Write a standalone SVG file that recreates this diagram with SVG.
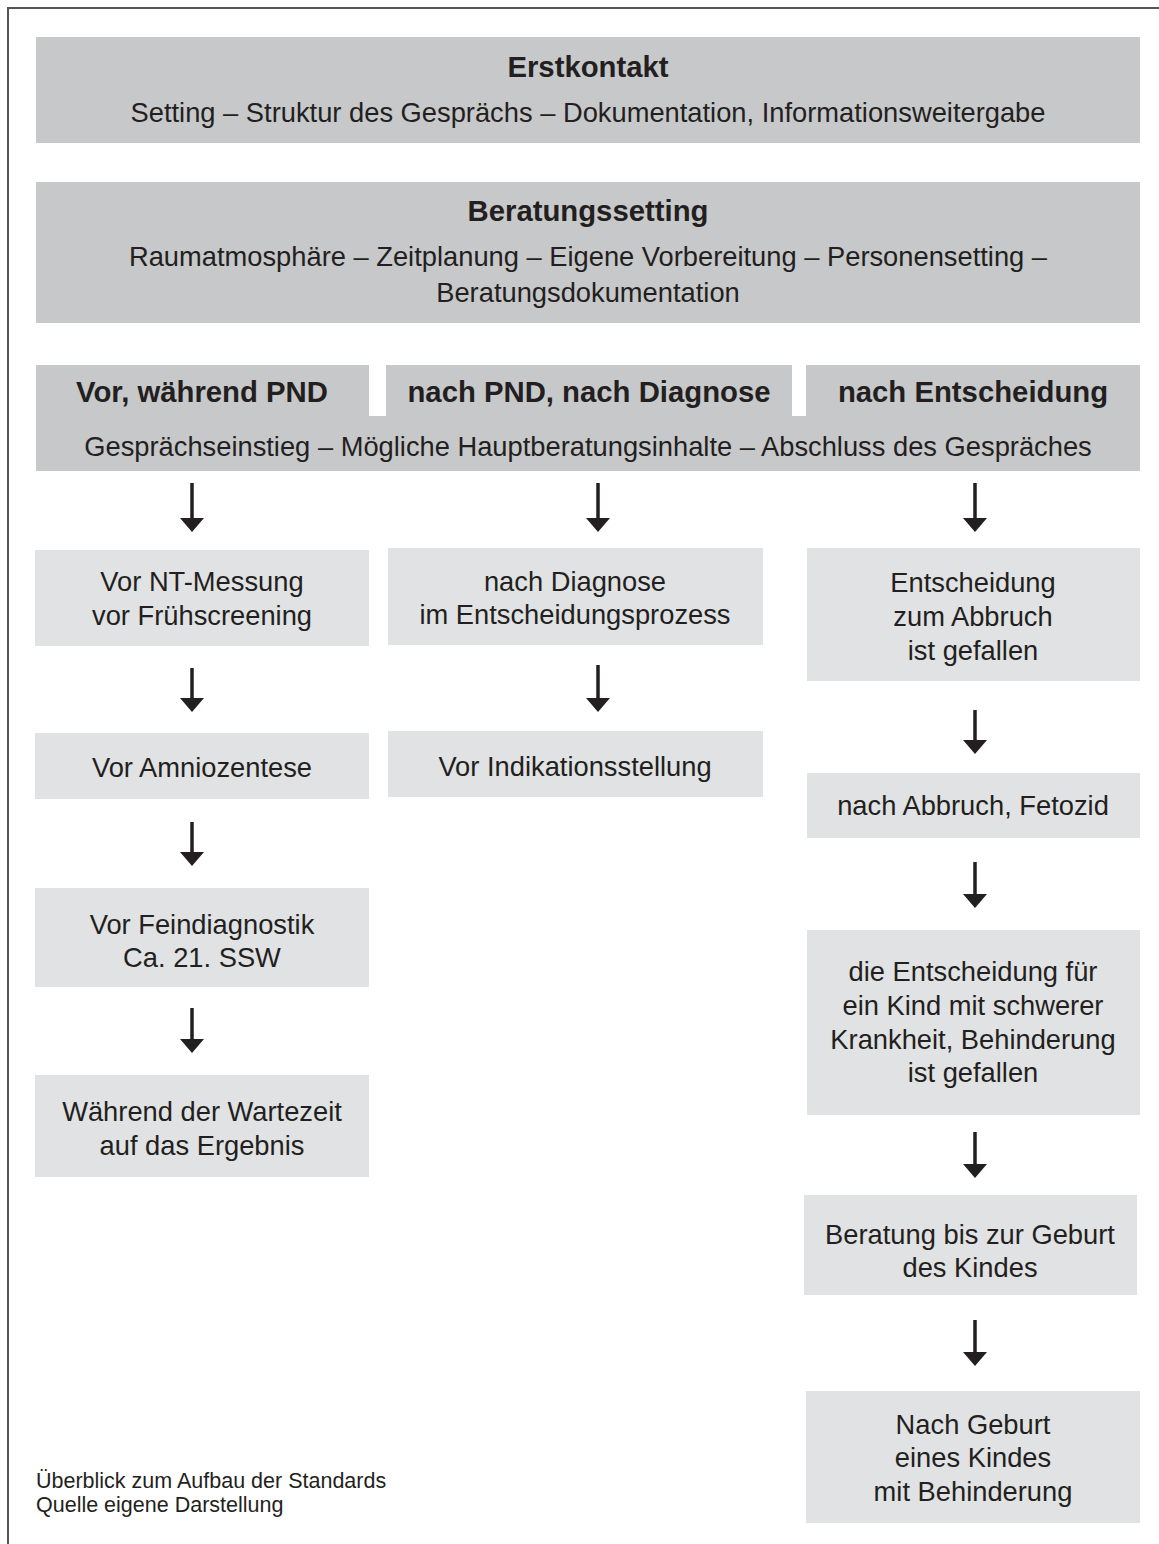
<svg xmlns="http://www.w3.org/2000/svg" width="1159" height="1544" viewBox="0 0 1159 1544">
<defs>
<style>
text{font-family:"Liberation Sans",Arial,sans-serif;fill:#231f20;text-anchor:middle}
.t{font-size:27.3px}
.b{font-size:29.3px;font-weight:bold}
.hb{font-size:29.3px;font-weight:bold}
.f{font-size:21.5px;text-anchor:start}
.dk{fill:#c7c8ca}
.lt{fill:#e1e2e3}
.ar{stroke:#231f20;stroke-width:3.5;fill:none;marker-end:url(#ah)}
</style>
<marker id="ah" viewBox="0 -12 14 24" markerWidth="14" markerHeight="24" refX="0" refY="0" orient="auto" markerUnits="userSpaceOnUse">
<path d="M0,-12 L14,0 L0,12 z" fill="#231f20"/>
</marker>
</defs>
<rect width="1159" height="1544" fill="#fff"/>
<path d="M8,1544 V8 H1159" fill="none" stroke="#555" stroke-width="2"/>

<g id="erstkontakt">
<rect class="dk" x="36" y="37" width="1104" height="106"/>
<text class="b" x="588" y="77">Erstkontakt</text>
<text class="t" x="588" y="122">Setting – Struktur des Gesprächs – Dokumentation, Informationsweitergabe</text>
</g>
<g id="beratungssetting">
<rect class="dk" x="36" y="182" width="1104" height="141"/>
<text class="b" x="588" y="221">Beratungssetting</text>
<text class="t" x="588" y="266">Raumatmosphäre – Zeitplanung – Eigene Vorbereitung – Personensetting –</text>
<text class="t" x="588" y="302">Beratungsdokumentation</text>
</g>
<g id="phasen">
<rect class="dk" x="36" y="365" width="333" height="52"/>
<rect class="dk" x="386" y="365" width="406" height="52"/>
<rect class="dk" x="806" y="365" width="334" height="52"/>
<rect class="dk" x="36" y="416" width="1104" height="55"/>
<text class="hb" x="202" y="402">Vor, während PND</text>
<text class="hb" x="589" y="402">nach PND, nach Diagnose</text>
<text class="hb" x="973" y="402">nach Entscheidung</text>
<text class="t" x="588" y="456">Gesprächseinstieg – Mögliche Hauptberatungsinhalte – Abschluss des Gespräches</text>
</g>

<g id="c1n1"><rect class="lt" x="35" y="550" width="334" height="96"/>
<text class="t" x="202" y="591">Vor NT-Messung</text><text class="t" x="202" y="625">vor Frühscreening</text></g>
<g id="c1n2"><rect class="lt" x="35" y="733" width="334" height="66"/>
<text class="t" x="202" y="777">Vor Amniozentese</text></g>
<g id="c1n3"><rect class="lt" x="35" y="888" width="334" height="99"/>
<text class="t" x="202" y="934">Vor Feindiagnostik</text><text class="t" x="202" y="967">Ca. 21. SSW</text></g>
<g id="c1n4"><rect class="lt" x="35" y="1075" width="334" height="102"/>
<text class="t" x="202" y="1121">Während der Wartezeit</text><text class="t" x="202" y="1155">auf das Ergebnis</text></g>

<g id="c2n1"><rect class="lt" x="388" y="548" width="375" height="97"/>
<text class="t" x="575" y="591">nach Diagnose</text><text class="t" x="575" y="624">im Entscheidungsprozess</text></g>
<g id="c2n2"><rect class="lt" x="388" y="731" width="375" height="66"/>
<text class="t" x="575" y="776">Vor Indikationsstellung</text></g>

<g id="c3n1"><rect class="lt" x="807" y="548" width="333" height="133"/>
<text class="t" x="973" y="592">Entscheidung</text><text class="t" x="973" y="626">zum Abbruch</text><text class="t" x="973" y="660">ist gefallen</text></g>
<g id="c3n2"><rect class="lt" x="807" y="773" width="333" height="65"/>
<text class="t" x="973" y="815">nach Abbruch, Fetozid</text></g>
<g id="c3n3"><rect class="lt" x="807" y="930" width="333" height="185"/>
<text class="t" x="973" y="981">die Entscheidung für</text><text class="t" x="973" y="1015">ein Kind mit schwerer</text><text class="t" x="973" y="1049">Krankheit, Behinderung</text><text class="t" x="973" y="1082">ist gefallen</text></g>
<g id="c3n4"><rect class="lt" x="804" y="1195" width="333" height="100"/>
<text class="t" x="970" y="1244">Beratung bis zur Geburt</text><text class="t" x="970" y="1277">des Kindes</text></g>
<g id="c3n5"><rect class="lt" x="806" y="1391" width="334" height="132"/>
<text class="t" x="973" y="1434">Nach Geburt</text><text class="t" x="973" y="1467">eines Kindes</text><text class="t" x="973" y="1501">mit Behinderung</text></g>

<g id="connectors">
<line class="ar" x1="192" y1="483" x2="192" y2="518"/>
<line class="ar" x1="192" y1="668" x2="192" y2="698"/>
<line class="ar" x1="192" y1="822" x2="192" y2="852"/>
<line class="ar" x1="192" y1="1008" x2="192" y2="1039"/>
<line class="ar" x1="598" y1="483" x2="598" y2="518"/>
<line class="ar" x1="598" y1="665" x2="598" y2="698"/>
<line class="ar" x1="975" y1="483" x2="975" y2="518"/>
<line class="ar" x1="975" y1="710" x2="975" y2="740"/>
<line class="ar" x1="975" y1="862" x2="975" y2="894"/>
<line class="ar" x1="975" y1="1132" x2="975" y2="1164"/>
<line class="ar" x1="975" y1="1320" x2="975" y2="1352"/>
</g>

<g id="caption">
<text class="f" x="36" y="1488">Überblick zum Aufbau der Standards</text>
<text class="f" x="36" y="1512">Quelle eigene Darstellung</text>
</g>
</svg>
